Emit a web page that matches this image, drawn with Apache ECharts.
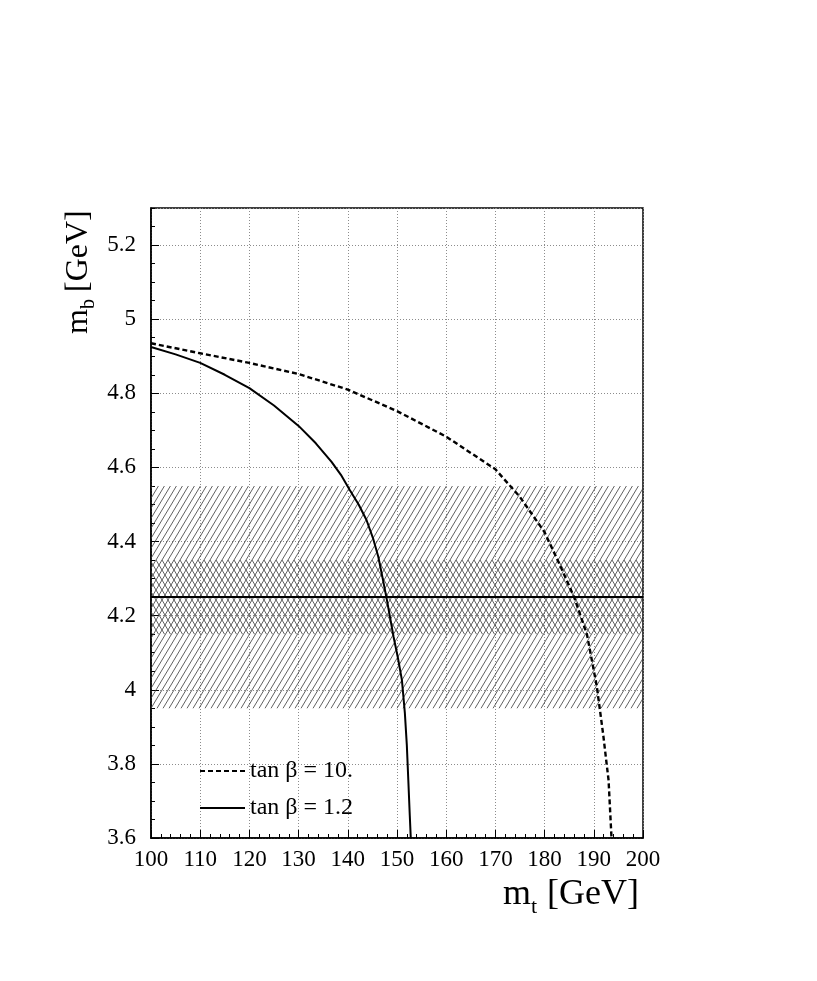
<!DOCTYPE html>
<html>
<head>
<meta charset="utf-8">
<script src="https://cdn.jsdelivr.net/npm/echarts@6/dist/echarts.min.js"></script>
<style>
  html, body { margin: 0; padding: 0; background: #fff; }
  #chart { width: 817px; height: 981px; }
</style>
</head>
<body>
<div id="chart"></div>
<script>
// tan beta = 10 (dashed)
const mtHigh = [100, 110, 120, 130, 140, 150, 160, 170, 175, 180, 183, 186, 188.6, 190.6, 191.9, 193.0, 193.6];
const mbHigh = [4.935, 4.908, 4.882, 4.852, 4.81, 4.752, 4.683, 4.595, 4.52, 4.425, 4.34, 4.25, 4.15, 4.01, 3.88, 3.756, 3.60];

// tan beta = 1.2 (solid)
const mtLow = [100, 105, 110, 115, 120, 125, 130, 133.5, 136.7, 138.6, 140.4, 142.2, 143.8, 145.1, 146.2, 147.1, 147.9, 149.3, 150.2, 151.0, 151.6, 152.0, 152.3, 152.6, 152.8];
const mbLow = [4.925, 4.905, 4.882, 4.85, 4.814, 4.767, 4.712, 4.665, 4.615, 4.58, 4.539, 4.50, 4.458, 4.41, 4.359, 4.30, 4.246, 4.143, 4.085, 4.026, 3.937, 3.85, 3.756, 3.66, 3.60];

// measured m_b band and central value
const outerBand = [3.95, 4.55];
const innerBand = [4.15, 4.35];
const mbCentral = 4.25;

const seriesNames = ['tan β = 10.', 'tan β = 1.2'];

const xRange = [100, 200];
const yRange = [3.6, 5.3];

const serif = 'Liberation Serif';

function hatch(dir) {
  const c = document.createElement('canvas');
  c.width = 6;
  c.height = 10;
  const g = c.getContext('2d');
  g.strokeStyle = '#3a3a3a';
  g.lineWidth = 0.8;
  for (let k = -1; k <= 1; k++) {
    g.beginPath();
    if (dir > 0) {
      g.moveTo(k * 6, 10);
      g.lineTo(k * 6 + 6, 0);
    } else {
      g.moveTo(k * 6, 0);
      g.lineTo(k * 6 + 6, 10);
    }
    g.stroke();
  }
  return c;
}

const zip = (xs, ys) => xs.map((x, i) => [x, ys[i]]);

const dotted = { color: '#8c8c8c', width: 1, type: [1, 2] };

const txt = (text, x, y, size) => ({
  type: 'text', x, y,
  style: { text, font: size + 'px "Liberation Serif"', fill: '#000', textAlign: 'left', textVerticalAlign: 'middle' }
});

const chart = echarts.init(document.getElementById('chart'));

chart.setOption({
  animation: false,
  backgroundColor: '#fff',
  grid: {
    left: 151, top: 208, right: 174, bottom: 143,
    show: true, borderColor: '#000', borderWidth: 1.5
  },
  legend: {
    data: seriesNames,
    orient: 'vertical',
    left: 194, top: 754,
    itemWidth: 45, itemHeight: 14, itemGap: 13,
    itemStyle: { opacity: 0 },
    textStyle: { fontFamily: serif, fontSize: 24, color: '#000' }
  },
  xAxis: {
    type: 'value', min: xRange[0], max: xRange[1], interval: 10,
    axisLine: { lineStyle: { color: '#000', width: 1.5 } },
    axisTick: { inside: true, length: 8, lineStyle: { color: '#000' } },
    minorTick: { show: true, splitNumber: 5, length: 4, lineStyle: { color: '#000' } },
    splitLine: { show: true, lineStyle: dotted },
    axisLabel: { fontFamily: serif, fontSize: 23, color: '#000', margin: 10 }
  },
  yAxis: [{
    type: 'value', min: yRange[0], max: yRange[1], interval: 0.2,
    axisLine: { show: true, lineStyle: { color: '#000', width: 1.5 } },
    axisTick: { show: true, inside: true, length: 8, lineStyle: { color: '#000' } },
    splitLine: { show: true, lineStyle: dotted },
    axisLabel: { fontFamily: serif, fontSize: 23, color: '#000', margin: 15, showMaxLabel: false }
  }, {
    // fine ticks every 0.05
    type: 'value', position: 'left', min: yRange[0], max: yRange[1], interval: 0.05,
    axisLine: { show: false },
    axisTick: { show: true, inside: true, length: 4, lineStyle: { color: '#000' } },
    splitLine: { show: false },
    axisLabel: { show: false }
  }],
  graphic: [{
    type: 'group', x: 79, y: 334, rotation: Math.PI / 2,
    children: [txt('m', 0, 0, 32), txt('b', 25, 10, 20), txt('[GeV]', 42, 0, 32)]
  }, {
    type: 'group', x: 503, y: 895,
    children: [txt('m', 0, 0, 36), txt('t', 28, 12, 22), txt('[GeV]', 44, 0, 36)]
  }],
  series: [{
    name: 'band',
    type: 'line',
    data: [],
    z: 1,
    silent: true,
    markArea: {
      silent: true,
      data: [
        [{ yAxis: outerBand[0], itemStyle: { color: { image: hatch(1), repeat: 'repeat' } } }, { yAxis: outerBand[1] }],
        [{ yAxis: innerBand[0], itemStyle: { color: { image: hatch(-1), repeat: 'repeat' } } }, { yAxis: innerBand[1] }]
      ]
    },
    markLine: {
      silent: true,
      symbol: ['none', 'none'],
      label: { show: false },
      lineStyle: { color: '#000', width: 2, type: 'solid' },
      data: [{ yAxis: mbCentral }]
    }
  }, {
    name: seriesNames[0],
    type: 'line',
    data: zip(mtHigh, mbHigh),
    symbol: 'none',
    z: 3,
    lineStyle: { color: '#000', width: 2.4, type: [5, 3] },
    itemStyle: { color: '#000' }
  }, {
    name: seriesNames[1],
    type: 'line',
    data: zip(mtLow, mbLow),
    symbol: 'none',
    z: 3,
    lineStyle: { color: '#000', width: 2, type: 'solid' },
    itemStyle: { color: '#000' }
  }]
});
</script>
</body>
</html>
